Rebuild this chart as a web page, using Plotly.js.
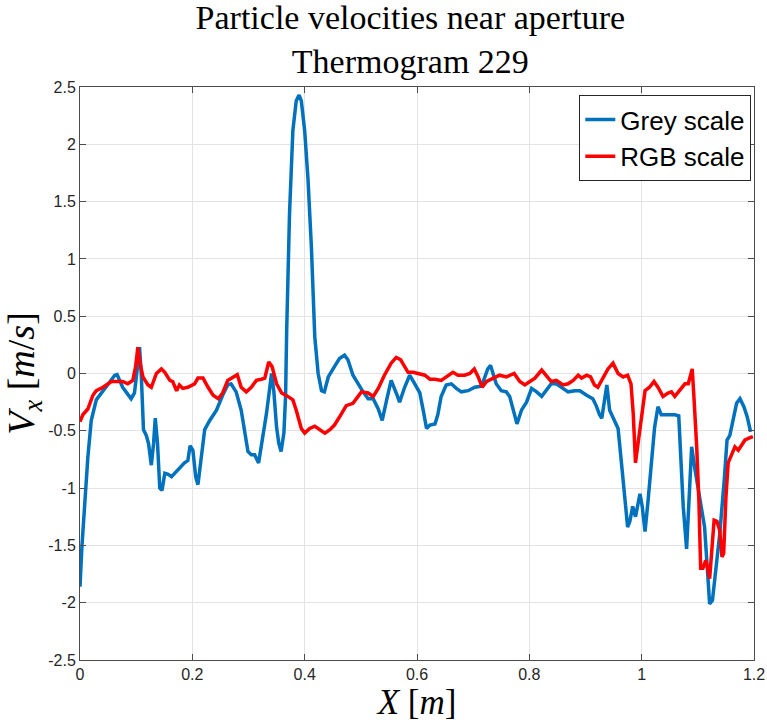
<!DOCTYPE html>
<html>
<head>
<meta charset="utf-8">
<script src="https://cdn.plot.ly/plotly-3.0.1.min.js"></script>
<style>html,body{margin:0;padding:0;background:#fff;}#chart{width:767px;height:726px;}</style>
</head>
<body>
<div id="chart"></div>
<script>
var greyX = [0.000,0.0034,0.014,0.020,0.029,0.038,0.050,0.062,0.066,0.076,0.091,0.097,0.103,0.106,0.109,0.113,0.118,0.122,0.127,0.131,0.134,0.138,0.142,0.146,0.151,0.157,0.163,0.174,0.186,0.192,0.196,0.201,0.206,0.210,0.216,0.222,0.231,0.243,0.254,0.263,0.269,0.278,0.287,0.293,0.299,0.305,0.311,0.318,0.326,0.332,0.338,0.341,0.345,0.350,0.354,0.358,0.363,0.366,0.368,0.373,0.379,0.385,0.390,0.394,0.400,0.406,0.412,0.418,0.424,0.430,0.435,0.442,0.453,0.462,0.471,0.477,0.486,0.495,0.504,0.513,0.522,0.531,0.538,0.546,0.554,0.563,0.569,0.578,0.587,0.596,0.605,0.611,0.617,0.623,0.632,0.637,0.643,0.652,0.661,0.670,0.679,0.691,0.703,0.715,0.721,0.726,0.731,0.735,0.741,0.750,0.759,0.765,0.771,0.778,0.786,0.795,0.804,0.813,0.822,0.830,0.839,0.848,0.860,0.869,0.881,0.890,0.902,0.913,0.919,0.925,0.929,0.934,0.938,0.943,0.952,0.958,0.964,0.970,0.975,0.979,0.984,0.989,0.997,1.001,1.006,1.011,1.017,1.023,1.029,1.035,1.047,1.059,1.066,1.069,1.074,1.080,1.084,1.089,1.095,1.103,1.112,1.117,1.121,1.126,1.131,1.139,1.147,1.152,1.157,1.163,1.169,1.175,1.182,1.188,1.194];
var greyV = [-1.86,-1.51,-0.73,-0.41,-0.23,-0.17,-0.085,-0.015,-0.01,-0.12,-0.22,-0.17,0.09,0.23,0.0,-0.49,-0.54,-0.61,-0.80,-0.61,-0.39,-0.61,-1.00,-1.02,-0.87,-0.88,-0.90,-0.84,-0.78,-0.76,-0.63,-0.67,-0.90,-0.97,-0.73,-0.49,-0.41,-0.32,-0.19,-0.10,-0.09,-0.16,-0.32,-0.49,-0.68,-0.71,-0.71,-0.78,-0.55,-0.35,-0.12,0.0,-0.15,-0.47,-0.61,-0.68,-0.52,-0.20,0.38,1.39,2.12,2.38,2.43,2.38,2.12,1.69,1.10,0.32,0.0,-0.15,-0.16,-0.03,0.06,0.13,0.16,0.12,-0.015,-0.09,-0.16,-0.22,-0.22,-0.31,-0.41,-0.23,-0.06,-0.17,-0.25,-0.12,-0.015,-0.09,-0.17,-0.32,-0.48,-0.45,-0.44,-0.36,-0.20,-0.10,-0.09,-0.13,-0.16,-0.15,-0.12,-0.11,-0.03,0.04,0.07,0.0,-0.09,-0.15,-0.16,-0.20,-0.32,-0.44,-0.32,-0.25,-0.13,-0.16,-0.20,-0.15,-0.09,-0.09,-0.13,-0.16,-0.15,-0.15,-0.19,-0.22,-0.28,-0.36,-0.39,-0.20,-0.10,-0.32,-0.42,-0.48,-0.78,-1.13,-1.34,-1.29,-1.16,-1.25,-1.05,-1.16,-1.38,-1.13,-0.78,-0.47,-0.29,-0.36,-0.36,-0.36,-0.37,-0.73,-1.16,-1.53,-1.08,-0.64,-0.84,-1.08,-1.34,-1.71,-2.01,-1.98,-1.77,-1.40,-0.93,-0.58,-0.54,-0.41,-0.26,-0.22,-0.29,-0.38,-0.51];

var rgbX = [0.000,0.005,0.014,0.023,0.029,0.041,0.056,0.067,0.076,0.085,0.094,0.099,0.103,0.107,0.112,0.121,0.127,0.136,0.145,0.151,0.160,0.165,0.172,0.177,0.183,0.192,0.204,0.210,0.219,0.228,0.237,0.246,0.254,0.263,0.272,0.280,0.287,0.296,0.305,0.314,0.323,0.329,0.336,0.342,0.350,0.359,0.370,0.379,0.385,0.394,0.400,0.409,0.418,0.427,0.436,0.445,0.453,0.462,0.474,0.486,0.495,0.501,0.513,0.522,0.531,0.542,0.554,0.563,0.571,0.578,0.584,0.593,0.602,0.614,0.623,0.632,0.643,0.652,0.664,0.673,0.685,0.694,0.702,0.709,0.716,0.724,0.735,0.747,0.759,0.773,0.783,0.792,0.801,0.810,0.822,0.830,0.839,0.848,0.860,0.869,0.878,0.887,0.893,0.902,0.909,0.916,0.922,0.931,0.940,0.949,0.958,0.967,0.975,0.981,0.985,0.989,0.995,1.001,1.006,1.014,1.022,1.029,1.038,1.047,1.053,1.059,1.068,1.077,1.083,1.090,1.093,1.098,1.102,1.105,1.109,1.114,1.118,1.121,1.124,1.129,1.134,1.139,1.143,1.146,1.150,1.154,1.160,1.166,1.172,1.178,1.184,1.193,1.198];
var rgbV = [-0.42,-0.36,-0.31,-0.19,-0.15,-0.12,-0.07,-0.07,-0.07,-0.09,-0.06,0.06,0.23,0.09,-0.03,-0.10,-0.12,0.0,0.04,0.01,-0.06,-0.07,-0.15,-0.10,-0.13,-0.12,-0.09,-0.04,-0.04,-0.12,-0.19,-0.22,-0.17,-0.06,-0.03,-0.01,-0.12,-0.16,-0.12,-0.06,-0.05,-0.04,0.10,0.06,-0.09,-0.17,-0.20,-0.23,-0.32,-0.48,-0.52,-0.48,-0.46,-0.49,-0.52,-0.49,-0.45,-0.38,-0.28,-0.26,-0.20,-0.16,-0.17,-0.20,-0.13,-0.015,0.09,0.14,0.12,0.06,0.01,0.01,0.0,-0.015,-0.05,-0.05,-0.06,-0.03,0.01,-0.015,-0.015,0.0,0.04,-0.03,-0.12,-0.07,-0.04,-0.015,-0.03,0.0,-0.07,-0.10,-0.07,-0.04,0.03,-0.015,-0.07,-0.06,-0.10,-0.09,-0.06,-0.015,-0.04,-0.015,-0.03,-0.10,-0.12,-0.04,0.04,0.09,0.0,-0.03,-0.015,-0.09,-0.35,-0.78,-0.55,-0.29,-0.15,-0.12,-0.07,-0.12,-0.20,-0.17,-0.16,-0.20,-0.15,-0.09,-0.09,0.04,-0.20,-0.64,-1.13,-1.70,-1.70,-1.63,-1.71,-1.79,-1.60,-1.28,-1.29,-1.37,-1.60,-1.57,-1.08,-0.78,-0.71,-0.64,-0.67,-0.62,-0.58,-0.56,-0.55];

var seriesNames = ['Grey scale', 'RGB scale'];
var yTickVals = [-2.5,-2,-1.5,-1,-0.5,0,0.5,1,1.5,2,2.5];
var yTickText = ['-2.5','-2','-1.5','-1','-0.5','0','0.5','1','1.5','2','2.5'];
var xTickVals = [0,0.2,0.4,0.6,0.8,1,1.2];
var xTickText = ['0','0.2','0.4','0.6','0.8','1','1.2'];

var traces = [
  {x: greyX, y: greyV, name: seriesNames[0], type: 'scatter', mode: 'lines',
   line: {color: '#0072BD', width: 3.5}},
  {x: rgbX, y: rgbV, name: seriesNames[1], type: 'scatter', mode: 'lines',
   line: {color: '#FF0000', width: 3.5}}
];

var serif = 'Liberation Serif, DejaVu Serif, serif';
var sans = 'Liberation Sans, Arial, sans-serif';

var axisCommon = {
  showgrid: true, gridcolor: '#e3e3e3', gridwidth: 1,
  zeroline: false, showline: true, linecolor: '#4d4d4d', linewidth: 1,
  mirror: 'ticks', ticks: 'inside', ticklen: 6, tickcolor: '#4d4d4d',
  tickfont: {family: sans, size: 16, color: '#262626'}
};

var layout = {
  width: 767, height: 726,
  margin: {l: 80, r: 13, t: 87, b: 66},
  paper_bgcolor: '#ffffff', plot_bgcolor: '#ffffff',
  title: {text: 'Particle velocities near aperture<br>Thermogram 229',
          font: {family: serif, size: 34, color: '#000'},
          x: 0.535, xanchor: 'center', yref: 'container', y: 0.96, yanchor: 'top'},
  xaxis: Object.assign({}, axisCommon, {
    range: [0, 1.2], tickvals: xTickVals, ticktext: xTickText,
    title: {text: '<i>X</i> [<i>m</i>]', standoff: 4,
            font: {family: serif, size: 35, color: '#000'}}
  }),
  yaxis: Object.assign({}, axisCommon, {
    range: [-2.5, 2.5], tickvals: yTickVals, ticktext: yTickText,
    title: {text: '<i>V</i><sub><i>x</i></sub> [<i>m</i>/<i>s</i>]', standoff: 6,
            font: {family: serif, size: 38, color: '#000'}}
  }),
  legend: {x: 0.996, y: 0.986, xanchor: 'right', yanchor: 'top',
           bgcolor: '#ffffff', bordercolor: '#262626', borderwidth: 1,
           font: {family: sans, size: 26, color: '#000'},
           tracegroupgap: 0},
  showlegend: true
};

Plotly.newPlot('chart', traces, layout, {displayModeBar: false, staticPlot: true});
</script>
</body>
</html>
